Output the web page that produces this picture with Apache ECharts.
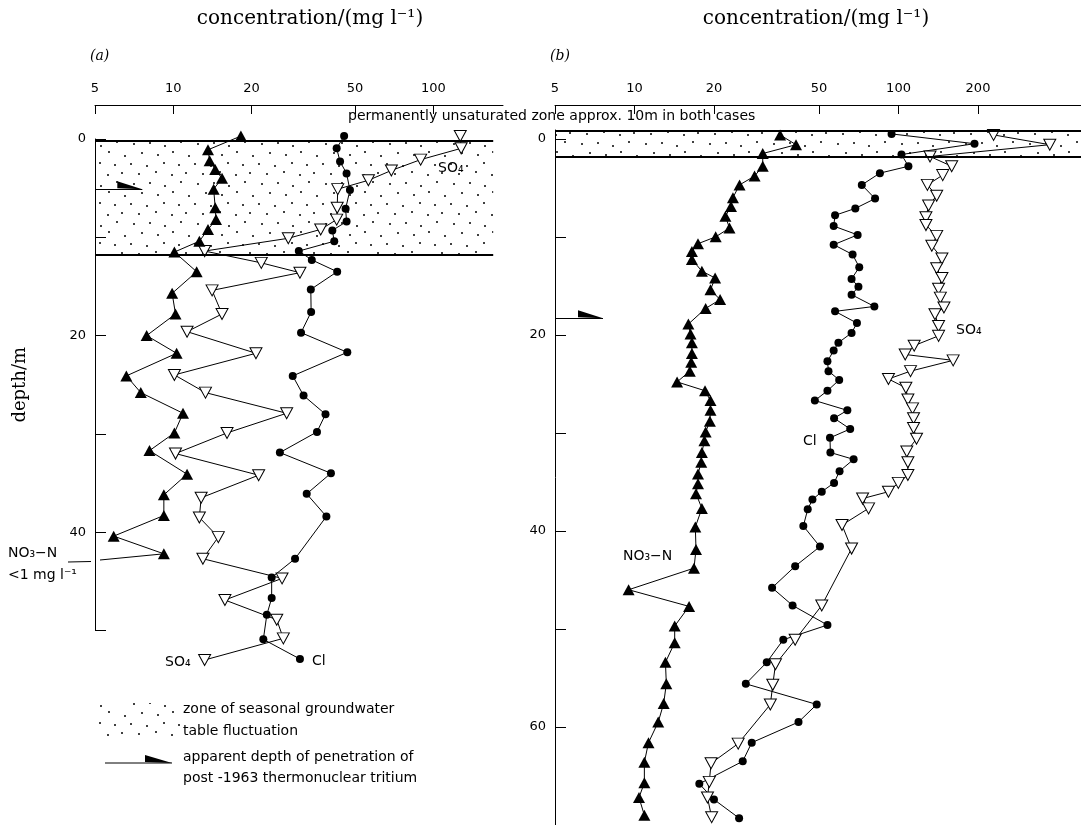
<!DOCTYPE html>
<html>
<head>
<meta charset="utf-8">
<title>groundwater profiles</title>
<script src="https://cdn.jsdelivr.net/npm/echarts@6/dist/echarts.min.js"></script>
<style>
    html, body {margin: 0; padding: 0; background: #fff;}
    #main {width: 1081px; height: 825px;}
</style>
</head>
<body>
<div id="main"></div>
<script>
// tick values on the concentration axes (mg/l)
var ticksA = [5, 10, 20, 50, 100];
var ticksB = [5, 10, 20, 50, 100, 200];
// depth ticks (m), labelled every 20 m
var depthTicksA = [0, 10, 20, 30, 40, 50];
var depthTicksB = [0, 10, 20, 30, 40, 50, 60, 70];
var depthLabels = [0, 20, 40, 60];

// profiles, each point is [concentration mg/l, depth m]
// (a)
var no3A = [[18.2, -0.3], [13.6, 1.1], [13.8, 2.2], [14.5, 3.1], [15.4, 4.0], [14.3, 5.1], [14.5, 7.0],
    [14.6, 8.2], [13.6, 9.2], [12.6, 10.4], [10.1, 11.5], [12.3, 13.5], [9.9, 15.7], [10.2, 17.8],
    [7.9, 20.0], [10.3, 21.8], [6.6, 24.1], [7.5, 25.8], [10.9, 27.9], [10.1, 29.9], [8.1, 31.7],
    [11.3, 34.1], [9.2, 36.2], [9.2, 38.3], [5.9, 40.4], [9.2, 42.2]];
var clA = [[45.4, -0.3], [42.5, 0.95], [43.8, 2.3], [46.4, 3.5], [47.8, 5.2], [46.0, 7.1], [46.4, 8.4],
    [40.9, 9.3], [41.6, 10.4], [30.4, 11.4], [34.1, 12.3], [42.7, 13.5], [33.8, 15.3], [33.9, 17.6],
    [31.0, 19.7], [46.7, 21.7], [28.8, 24.1], [31.7, 26.1], [38.5, 28.0], [35.7, 29.8], [25.7, 31.9],
    [40.4, 34.0], [32.6, 36.1], [38.8, 38.4], [29.4, 42.7], [23.9, 44.6], [23.9, 46.7], [22.9, 48.4],
    [22.2, 50.9], [30.7, 52.9]];
var so4A = [[127, -0.3], [128, 0.95], [89.4, 2.1], [69.0, 3.2], [56.3, 4.2], [42.9, 5.1], [42.7, 7.0],
    [42.5, 8.2], [36.9, 9.2], [27.7, 10.1], [13.2, 11.4], [21.8, 12.6], [30.7, 13.6], [14.1, 15.4],
    [15.4, 17.8], [11.3, 19.6], [20.8, 21.8], [10.1, 24.0], [13.3, 25.8], [27.3, 27.9], [16.1, 29.9],
    [10.2, 32.0], [21.3, 34.2], [12.8, 36.5], [12.6, 38.5], [14.9, 40.5], [13.0, 42.7], [26.2, 44.7],
    [15.8, 46.9], [25.0, 48.9], [26.5, 50.8], [13.2, 53.0]];
// (b)
var no3B = [[35.6, -0.4], [40.9, 0.6], [30.6, 1.5], [30.6, 2.8], [28.5, 3.8], [25.0, 4.7], [23.6, 6.0],
    [23.2, 6.9], [22.1, 7.9], [22.9, 9.1], [20.3, 10.0], [17.4, 10.7], [16.5, 11.5], [16.5, 12.3],
    [18.0, 13.5], [20.2, 14.2], [19.4, 15.4], [21.1, 16.4], [18.6, 17.3], [16.0, 18.9], [16.3, 19.9],
    [16.5, 20.8], [16.5, 21.9], [16.4, 22.8], [16.2, 23.7], [14.5, 24.8], [18.5, 25.7], [19.4, 26.7],
    [19.4, 27.7], [19.3, 28.8], [18.6, 29.9], [18.4, 30.8], [18.0, 32.0], [17.9, 33.0], [17.4, 34.2],
    [17.4, 35.2], [17.1, 36.2], [18.0, 37.7], [17.0, 39.6], [17.1, 41.9], [16.8, 43.8], [9.5, 46.0],
    [16.1, 47.7], [14.2, 49.7], [14.2, 51.4], [13.1, 53.4], [13.2, 55.6], [12.9, 57.6], [12.3, 59.5],
    [11.3, 61.6], [10.9, 63.6], [10.9, 65.7], [10.4, 67.2], [10.9, 69.0]];
var clB = [[94.1, -0.5], [194, 0.5], [102.6, 1.6], [109, 2.8], [85.0, 3.5], [72.6, 4.7], [81.5, 6.1],
    [68.6, 7.1], [57.5, 7.8], [56.8, 8.9], [70, 9.8], [56.8, 10.8], [67, 11.8], [71, 13.1], [66.4, 14.3],
    [70.5, 15.1], [66.4, 15.9], [81, 17.1], [57.5, 17.6], [69.6, 18.8], [66.4, 19.8], [59.2, 20.8],
    [56.8, 21.6], [53.8, 22.7], [54.3, 23.7], [59.6, 24.6], [53.8, 25.7], [48.2, 26.7], [64.0, 27.7],
    [57.0, 28.5], [65.6, 29.6], [55.0, 30.5], [55.2, 32.0], [67.6, 32.7], [59.8, 33.9], [57.0, 35.1],
    [51.2, 36.0], [47.2, 36.8], [45.3, 37.8], [43.6, 39.5], [50.4, 41.6], [40.6, 43.6], [33.2, 45.8],
    [39.7, 47.6], [53.8, 49.6], [36.6, 51.1], [31.7, 53.4], [26.4, 55.6], [49.0, 57.7], [41.8, 59.5],
    [27.8, 61.6], [25.7, 63.5], [17.6, 65.8], [20.0, 67.4], [24.9, 69.3]];
var so4B = [[229, -0.4], [374, 0.6], [131.6, 1.8], [159, 2.8], [147, 3.7], [128.6, 4.7], [139.5, 5.8],
    [130, 6.8], [127, 8.0], [127, 8.8], [139.5, 9.9], [133.7, 10.9], [146, 12.2], [139.5, 13.2],
    [146, 14.2], [141.8, 15.3], [144, 16.2], [148.6, 17.2], [137.4, 17.9], [141.8, 19.1], [141.8, 20.1],
    [114.6, 21.1], [106, 22.0], [161, 22.6], [111, 23.7], [91.6, 24.5], [106.6, 25.4], [108.5, 26.6],
    [113, 27.5], [114, 28.5], [114, 29.5], [117, 30.6], [107.5, 31.9], [108.5, 33.0], [108.5, 34.3],
    [99.8, 35.1], [91.6, 36.0], [73.1, 36.7], [77, 37.7], [61.1, 39.4], [66.4, 41.8], [51.2, 47.6],
    [40.6, 51.1], [34.2, 53.6], [33.4, 55.7], [32.7, 57.7], [24.7, 61.7], [19.5, 63.7], [19.2, 65.6],
    [18.9, 67.2], [19.6, 69.2]];

// zone of seasonal water table fluctuation [top, bottom] depth, and its x extent
var bandA = [0.15, 11.8], bandAX = [5, 170];
var bandB = [-0.85, 1.8], bandBX = [5, 491];
// apparent tritium penetration depth
var tritiumA = 5.1, tritiumB = 18.3;

// stipple pattern for the fluctuation zone
var stippleDots = [[3, 4], [19, 6], [36, 3], [51, 5], [11, 14], [28, 12], [44, 15], [58, 13],
    [6, 24], [22, 23], [37, 26], [53, 22], [14, 33], [30, 35], [45, 32], [61, 36]];
function stipple() {
    var c = document.createElement('canvas');
    c.width = 64;
    c.height = 40;
    var ctx = c.getContext('2d');
    ctx.fillStyle = '#000';
    stippleDots.forEach(function (p) {
        ctx.beginPath();
        ctx.arc(p[0], p[1], 1.0, 0, Math.PI * 2);
        ctx.fill();
    });
    return c;
}
var stip = stipple();
var wedge = 'path://M0,0 L27,8 L0,7 Z';

var sans = 'DejaVu Sans';
var serif = 'DejaVu Serif';

function profile(data, idx, kind) {
    var s = {
        type: 'line',
        xAxisIndex: idx,
        yAxisIndex: idx,
        data: data,
        clip: false,
        silent: true,
        lineStyle: {color: '#000', width: 1},
        z: 3
    };
    if (kind == 'no3') {
        s.symbol = 'triangle';
        s.symbolSize = [12, 11];
        s.itemStyle = {color: '#000'};
    } else if (kind == 'cl') {
        s.symbol = 'circle';
        s.symbolSize = 8;
        s.itemStyle = {color: '#000'};
    } else {
        s.symbol = 'triangle';
        s.symbolRotate = 180;
        s.symbolSize = [12, 11];
        s.itemStyle = {color: '#fff', borderColor: '#000', borderWidth: 1};
    }
    return s;
}

// band + tritium arrow, hung on an empty series
function zone(idx, band, bx, tri) {
    return {
        type: 'line',
        xAxisIndex: idx,
        yAxisIndex: idx,
        data: [],
        clip: false,
        silent: true,
        z: 1,
        markArea: {
            silent: true,
            itemStyle: {color: {image: stip, repeat: 'repeat'}},
            data: [[{coord: [bx[0], band[0]]}, {coord: [bx[1], band[1]]}]]
        },
        markLine: {
            silent: true,
            symbol: 'none',
            label: {show: false},
            lineStyle: {color: '#000', type: 'solid', width: 2},
            data: [
                [{coord: [bx[0], band[0]]}, {coord: [bx[1], band[0]]}],
                [{coord: [bx[0], band[1]]}, {coord: [bx[1], band[1]]}],
                [{coord: [5, tri], lineStyle: {width: 1}}, {coord: [7.6, tri]}]
            ]
        },
        markPoint: {
            silent: true,
            label: {show: false},
            itemStyle: {color: '#000'},
            data: [{coord: [7.6, tri], symbol: wedge, symbolSize: [25, 8], symbolOffset: [-12.5, -4]}]
        }
    };
}

function xAxis(idx, max, ticks, offset) {
    return {
        gridIndex: idx,
        type: 'log',
        logBase: 10,
        min: 5,
        max: max,
        position: 'top',
        offset: offset,
        axisLine: {show: true, onZero: false, lineStyle: {color: '#000', width: 1}},
        axisTick: {show: true, inside: true, length: 9, customValues: ticks, lineStyle: {color: '#000'}},
        axisLabel: {customValues: ticks, margin: 10, color: '#000', fontFamily: sans, fontSize: 13},
        minorTick: {show: false},
        splitLine: {show: false}
    };
}

function yAxis(idx, min, max, ticks, named) {
    var a = {
        gridIndex: idx,
        type: 'value',
        inverse: true,
        min: min,
        max: max,
        axisLine: {show: true, lineStyle: {color: '#000', width: 1}},
        axisTick: {show: true, inside: true, length: 11, customValues: ticks, lineStyle: {color: '#000'}},
        axisLabel: {customValues: depthLabels, margin: 9, color: '#000', fontFamily: sans, fontSize: 13},
        splitLine: {show: false}
    };
    if (named) {
        a.name = 'depth/m';
        a.nameLocation = 'middle';
        a.nameRotate = 90;
        a.nameGap = 66;
        a.nameTextStyle = {fontFamily: serif, fontSize: 18, color: '#000'};
    }
    return a;
}

function txt(x, y, s, font, align) {
    return {type: 'text', x: x, y: y, silent: true,
        style: {text: s, font: font, fill: '#000', textAlign: align || 'left', textVerticalAlign: 'middle'}};
}

var f14 = '14px "' + sans + '"';
var graphics = [
    txt(310, 19, 'concentration/(mg l⁻¹)', '20px "' + serif + '"', 'center'),
    txt(816, 19, 'concentration/(mg l⁻¹)', '20px "' + serif + '"', 'center'),
    txt(90, 56, '(a)', 'italic 14px "' + serif + '"'),
    txt(550, 56, '(b)', 'italic 14px "' + serif + '"'),
    txt(348, 116, 'permanently unsaturated zone approx. 10m in both cases', f14),
    txt(438, 168, 'SO₄', f14),
    txt(165, 662, 'SO₄', f14),
    txt(312, 661, 'Cl', f14),
    txt(8, 553, 'NO₃−N', f14),
    txt(8, 575, '<1 mg l⁻¹', f14),
    txt(956, 330, 'SO₄', f14),
    txt(803, 441, 'Cl', f14),
    txt(623, 556, 'NO₃−N', f14),
    // key
    {type: 'rect', silent: true, shape: {x: 97, y: 703, width: 83, height: 37},
        style: {fill: {image: stip, repeat: 'repeat'}}},
    txt(183, 709, 'zone of seasonal groundwater', f14),
    txt(183, 731, 'table fluctuation', f14),
    {type: 'line', silent: true, shape: {x1: 105, y1: 763, x2: 172, y2: 763}, style: {stroke: '#000', lineWidth: 1}},
    {type: 'polygon', silent: true, shape: {points: [[145, 755], [172, 763], [145, 762]]}, style: {fill: '#000'}},
    txt(183, 757, 'apparent depth of penetration of', f14),
    txt(183, 778, 'post -1963 thermonuclear tritium', f14)
];

var myChart = echarts.init(document.getElementById('main'));
var option = {
    animation: false,
    backgroundColor: '#fff',
    grid: [
        {left: 95, top: 139, width: 408, height: 491.5},
        {left: 555, top: 130, right: 0, height: 697}
    ],
    xAxis: [xAxis(0, 185.4, ticksA, 34), xAxis(1, 491, ticksB, 25)],
    yAxis: [yAxis(0, 0, 50, depthTicksA, true), yAxis(1, -0.9, 70, depthTicksB, false)],
    series: [
        zone(0, bandA, bandAX, tritiumA),
        profile(so4A, 0, 'so4'),
        profile(clA, 0, 'cl'),
        profile(no3A, 0, 'no3'),
        zone(1, bandB, bandBX, tritiumB),
        profile(so4B, 1, 'so4'),
        profile(clB, 1, 'cl'),
        profile(no3B, 1, 'no3')
    ],
    graphic: graphics
};
myChart.setOption(option);

// leader from the last NO3-N sample in (a) out to the "<1 mg/l" note
var last = myChart.convertToPixel({xAxisIndex: 0, yAxisIndex: 0}, no3A[no3A.length - 1]);
graphics.push({type: 'line', silent: true, shape: {x1: last[0], y1: last[1], x2: 100, y2: 560},
    style: {stroke: '#000', lineWidth: 1}});
graphics.push({type: 'line', silent: true, shape: {x1: 68, y1: 562, x2: 91, y2: 561.5},
    style: {stroke: '#000', lineWidth: 1}});
myChart.setOption({graphic: graphics});
</script>
</body>
</html>
